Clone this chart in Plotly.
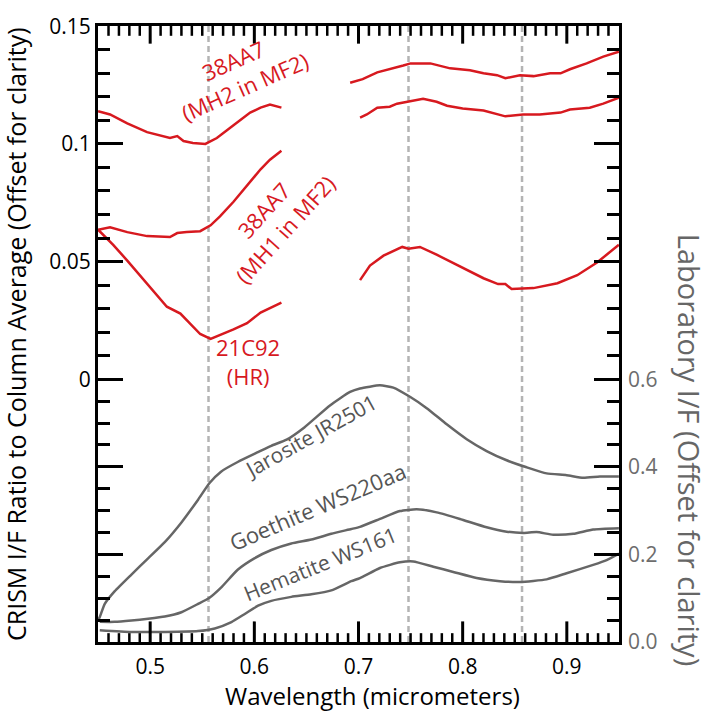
import plotly.graph_objects as go

# ---------------- data ----------------
mh2_vis_x = [0.450, 0.4615, 0.478, 0.497, 0.519, 0.526, 0.532, 0.541, 0.553, 0.564, 0.580, 0.596, 0.606, 0.615, 0.626]
mh2_vis_y = [0.1139, 0.1125, 0.1087, 0.1050, 0.1025, 0.1033, 0.1012, 0.1004, 0.1000, 0.1025, 0.1079, 0.1133, 0.1154, 0.1167, 0.1154]
mh2_nir_x = [0.692, 0.704, 0.718, 0.730, 0.743, 0.750, 0.769, 0.788, 0.807, 0.820, 0.833, 0.841, 0.855, 0.868, 0.884, 0.894, 0.903, 0.919, 0.935, 0.950]
mh2_nir_y = [0.1260, 0.1275, 0.1304, 0.1317, 0.1333, 0.1342, 0.1342, 0.1321, 0.1313, 0.1300, 0.1292, 0.1279, 0.1292, 0.1288, 0.1300, 0.1300, 0.1317, 0.1342, 0.1371, 0.1392]

mh1_vis_x = [0.450, 0.4615, 0.478, 0.497, 0.519, 0.526, 0.535, 0.548, 0.558, 0.567, 0.580, 0.593, 0.606, 0.615, 0.626]
mh1_vis_y = [0.0635, 0.0646, 0.0625, 0.0608, 0.0604, 0.0621, 0.0625, 0.0629, 0.0654, 0.0692, 0.0754, 0.0821, 0.0892, 0.0933, 0.0971]
mh1_nir_x = [0.7015, 0.708, 0.718, 0.730, 0.737, 0.750, 0.762, 0.775, 0.785, 0.800, 0.820, 0.841, 0.858, 0.874, 0.894, 0.903, 0.922, 0.935, 0.950]
mh1_nir_y = [0.1112, 0.1125, 0.1154, 0.1158, 0.1171, 0.1183, 0.1192, 0.1179, 0.1162, 0.1150, 0.1142, 0.1117, 0.1125, 0.1125, 0.1133, 0.1146, 0.1154, 0.1171, 0.1196]

hr_vis_x = [0.450, 0.4645, 0.478, 0.497, 0.516, 0.529, 0.538, 0.548, 0.558, 0.567, 0.580, 0.593, 0.606, 0.626]
hr_vis_y = [0.0635, 0.0571, 0.0504, 0.0404, 0.0308, 0.0279, 0.0238, 0.0192, 0.0171, 0.0187, 0.0212, 0.0238, 0.0283, 0.0325]
hr_nir_x = [0.7015, 0.711, 0.724, 0.742, 0.748, 0.759, 0.775, 0.800, 0.820, 0.834, 0.841, 0.847, 0.868, 0.891, 0.910, 0.929, 0.950]
hr_nir_y = [0.0421, 0.0483, 0.0525, 0.0562, 0.0554, 0.0562, 0.0529, 0.0475, 0.0429, 0.0404, 0.0404, 0.0383, 0.0387, 0.0408, 0.0442, 0.0496, 0.0571]

jar_x = [0.450, 0.4516, 0.4564, 0.466, 0.482, 0.498, 0.514, 0.530, 0.546, 0.557, 0.568, 0.584, 0.604, 0.6163, 0.631, 0.648,
         0.6726, 0.6919, 0.7014, 0.7206, 0.7334, 0.7494, 0.7655, 0.7847, 0.8039, 0.8230, 0.8422, 0.8614, 0.8806, 0.8998,
         0.9158, 0.9318, 0.950]
jar_y = [0.050, 0.057, 0.087, 0.116, 0.154, 0.191, 0.228, 0.273, 0.325, 0.363, 0.389, 0.411, 0.434, 0.448, 0.462, 0.490,
         0.540, 0.571, 0.579, 0.586, 0.581, 0.560, 0.534, 0.497, 0.463, 0.436, 0.415, 0.399, 0.385, 0.381,
         0.375, 0.378, 0.378]

goe_x = [0.4516, 0.466, 0.482, 0.498, 0.514, 0.530, 0.546, 0.557, 0.568, 0.584, 0.600, 0.6163, 0.6355, 0.6547, 0.6739,
         0.6931, 0.7014, 0.7206, 0.7398, 0.7559, 0.7751, 0.7974, 0.8230, 0.8422, 0.8582, 0.8710, 0.8869, 0.9062, 0.9253, 0.950]
goe_y = [0.046, 0.046, 0.049, 0.053, 0.058, 0.068, 0.087, 0.101, 0.124, 0.165, 0.191, 0.210, 0.225, 0.234, 0.247,
         0.258, 0.263, 0.281, 0.299, 0.303, 0.296, 0.281, 0.262, 0.252, 0.249, 0.251, 0.245, 0.247, 0.257, 0.260]

hem_x = [0.4516, 0.482, 0.514, 0.546, 0.562, 0.578, 0.5908, 0.6036, 0.6163, 0.6355, 0.6547, 0.6739, 0.6931, 0.7014,
         0.7206, 0.7398, 0.7526, 0.7718, 0.7910, 0.8134, 0.8358, 0.8550, 0.8806, 0.8998, 0.9253, 0.9382, 0.950]
hem_y = [0.027, 0.023, 0.023, 0.025, 0.031, 0.0455, 0.064, 0.083, 0.094, 0.103, 0.109, 0.118, 0.139, 0.146,
         0.169, 0.182, 0.184, 0.172, 0.160, 0.146, 0.139, 0.137, 0.143, 0.157, 0.176, 0.187, 0.202]

band_lines = [0.556, 0.748, 0.857]

x_range = [0.4499, 0.9501]
x_labels = [0.5, 0.6, 0.7, 0.8, 0.9]
x_minor = [round(0.45 + i / 100, 2) for i in range(1, 50) if i % 10 != 5]
left_range = [-0.1117, 0.1501]
right_range = [0.0, 1.4066]
left_labels = [0, 0.05, 0.1, 0.15]
right_labels = [0.0, 0.2, 0.4, 0.6]

RED = "#d7191f"
GRAY = "#666666"
FONT = "Open Sans"
PLOT_H = 715 - 14 - 73   # plot-area height in px (used to size the x tick marks)


def r2l(r):
    return left_range[0] + r * (left_range[1] - left_range[0]) / right_range[1]


fig = go.Figure()

red_segments = [(mh2_vis_x, mh2_vis_y), (mh2_nir_x, mh2_nir_y), (mh1_vis_x, mh1_vis_y),
                (mh1_nir_x, mh1_nir_y), (hr_vis_x, hr_vis_y), (hr_nir_x, hr_nir_y)]
for xs, ys in red_segments:
    fig.add_trace(go.Scatter(x=xs, y=ys, mode="lines", line=dict(color=RED, width=2.5),
                             xaxis="x", yaxis="y", showlegend=False, hoverinfo="skip"))

for xs, ys in [(jar_x, jar_y), (goe_x, goe_y), (hem_x, hem_y)]:
    fig.add_trace(go.Scatter(x=xs, y=ys, mode="lines", line=dict(color=GRAY, width=2.5, shape="spline", smoothing=0.5),
                             xaxis="x2", yaxis="y2", showlegend=False, hoverinfo="skip"))

for bx in band_lines:
    fig.add_shape(type="line", x0=bx, x1=bx, xref="x", yref="paper", y0=0, y1=1,
                  line=dict(color="#b4b4b4", width=2.5, dash="6px,4px"), layer="below")

# inward x tick marks on the bottom and top frame lines (placed on the x scale)
for vals, bot_len, top_len, w in [(x_labels, 21, 18, 3), (x_minor, 9, 10, 2.5)]:
    for v in vals:
        fig.add_shape(type="line", xref="x", yref="paper", x0=v, x1=v, y0=0, y1=bot_len / PLOT_H,
                      line=dict(color="black", width=w), layer="above")
        fig.add_shape(type="line", xref="x", yref="paper", x0=v, x1=v, y0=1, y1=1 - top_len / PLOT_H,
                      line=dict(color="black", width=w), layer="above")

maj_vals = [r2l(0.2), r2l(0.4)] + left_labels
maj_text = ["", "", "0", "0.05", "0.1", "0.15"]
minor_vals = [r2l(v) for v in [0.05, 0.1, 0.15, 0.25, 0.3, 0.35, 0.45, 0.5, 0.55]] + \
             [v / 100 for v in range(1, 15) if v % 5 != 0]

fig.update_layout(
    width=711, height=715,
    margin=dict(l=98, r=92, t=14, b=73),
    plot_bgcolor="rgba(0,0,0,0)", paper_bgcolor="white",
    font=dict(family=FONT, size=21, color="black"),
    xaxis=dict(range=x_range, showgrid=False, zeroline=False, showline=True, linewidth=3, linecolor="black",
               mirror=True, ticks="", tickmode="array", tickvals=x_labels,
               ticktext=["0.5", "0.6", "0.7", "0.8", "0.9"], ticklabelstandoff=4, tickfont=dict(size=21)),
    xaxis2=dict(range=x_range, overlaying="x", anchor="y2", visible=False),
    yaxis=dict(range=left_range, showgrid=False, zeroline=False, showline=True, linewidth=3, linecolor="black",
               mirror="ticks", ticks="inside", ticklen=25, tickwidth=3, tickcolor="black",
               tickmode="array", tickvals=maj_vals, ticktext=maj_text, ticklabeloverflow="allow",
               minor=dict(tickmode="array", tickvals=minor_vals, ticks="inside", ticklen=12, tickwidth=3,
                          tickcolor="black"),
               tickfont=dict(size=21)),
    yaxis2=dict(range=right_range, overlaying="y", side="right", anchor="x2", showgrid=False, zeroline=False,
                showline=False, ticks="", tickmode="array", tickvals=right_labels, ticklabelstandoff=8,
                ticktext=["0.0", "0.2", "0.4", "0.6"], tickfont=dict(size=21, color="#6d6d6d")),
)

annos = [
    dict(text="38AA7<br>(MH2 in MF2)", x=0.585, y=0.1300, yref="y", textangle=-24, size=22, color=RED),
    dict(text="38AA7<br>(MH1 in MF2)", x=0.619, y=0.0680, yref="y", textangle=-48, size=22, color=RED),
    dict(text="21C92<br>(HR)", x=0.594, y=0.0075, yref="y", textangle=0, size=22, color=RED),
    dict(text="Jarosite JR2501", x=0.6535, y=0.470, yref="y2", textangle=-29, size=21, color="#555555"),
    dict(text="Goethite WS220aa", x=0.6610, y=0.3100, yref="y2", textangle=-23, size=22, color="#555555"),
    dict(text="Hematite WS161", x=0.6631, y=0.1770, yref="y2", textangle=-22, size=21, color="#555555"),
]
for a in annos:
    fig.add_annotation(text=a["text"], x=a["x"], y=a["y"], xref="x", yref=a["yref"], showarrow=False,
                       textangle=a["textangle"], font=dict(size=a["size"], color=a["color"], family=FONT),
                       xanchor="center", yanchor="middle")

# axis titles (positions in plot-area fractions)
fig.add_annotation(text="Wavelength (micrometers)", xref="paper", yref="paper",
                   x=(372.5 - 98) / 521, y=(642 - 697) / 628, showarrow=False,
                   font=dict(size=24, color="black", family=FONT), xanchor="center", yanchor="middle")
fig.add_annotation(text="CRISM I/F Ratio to Column Average (Offset for clarity)", xref="paper", yref="paper",
                   x=(16 - 98) / 521, y=(642 - 328) / 628, showarrow=False, textangle=-90,
                   font=dict(size=25, color="black", family=FONT), xanchor="center", yanchor="middle")
fig.add_annotation(text="Laboratory I/F (Offset for clarity)", xref="paper", yref="paper",
                   x=(689 - 98) / 521, y=(642 - 446) / 628, showarrow=False, textangle=90,
                   font=dict(size=29, color="#666666", family=FONT), xanchor="center", yanchor="middle")

fig.write_html("out.html", config={"displayModeBar": False},
               post_script="document.body.style.margin='0';document.body.style.overflow='hidden';")
